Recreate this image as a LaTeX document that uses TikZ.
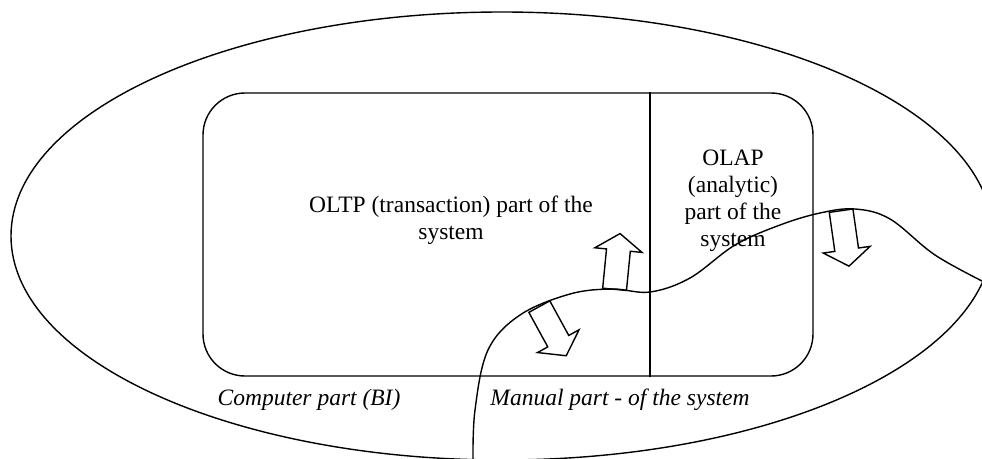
\documentclass[tikz,border=0pt]{standalone}
\usepackage{fontspec}
\setmainfont{Liberation Serif}
\usetikzlibrary{shapes.geometric,shapes.arrows}

\begin{document}
\begin{tikzpicture}[x=1pt,y=-1pt,line width=1.4pt]
\tikzstyle{txt}=[align=center, inner sep=0pt, font=\fontsize{23.5}{27}\selectfont]
\tikzstyle{note}=[inner sep=0pt, font=\fontsize{23.5}{27}\selectfont\itshape]
\tikzstyle{blockarrow}=[single arrow, draw, inner sep=11.25pt, minimum height=56pt, single arrow head extend=11.75pt, single arrow tip angle=110, anchor=tail]
\useasboundingbox (0,0) rectangle (982,458);
\clip (0,0) rectangle (982,458);
\node[draw, ellipse, minimum width=982pt, minimum height=448pt] (whole) at (502,236) {};
\node[draw, rounded corners=42pt, minimum width=610pt, minimum height=283pt] (sys) at (508,234.5) {};
\draw (sys.north -| 650,0) -- (sys.south -| 650,0);
\node[txt] (oltp) at (451,220) {OLTP (transaction) part of the\\system};
\node[txt] (olap) at (733,201) {OLAP\\(analytic)\\part of the\\system};
\node[note] (comp) at (309,400) {Computer part (BI)};
\node[note] (manual) at (620,400) {Manual part - of the system};
% border between computer and manual part
\draw plot[smooth, tension=0.6] coordinates {(473,462) (475,410) (488,350) (520,315) (570,294) (612,289) (650,292) (690,278) (735,245) (780,225) (820,213) (855,209) (890,219) (935,255) (986,283)};
\node[blockarrow, rotate=84.4] (up) at (614.5,290) {};
\node[blockarrow, rotate=-61.3] (down) at (539,306) {};
\node[blockarrow, rotate=-81.9] (olapdown) at (841,210) {};
\end{tikzpicture}
\end{document}
